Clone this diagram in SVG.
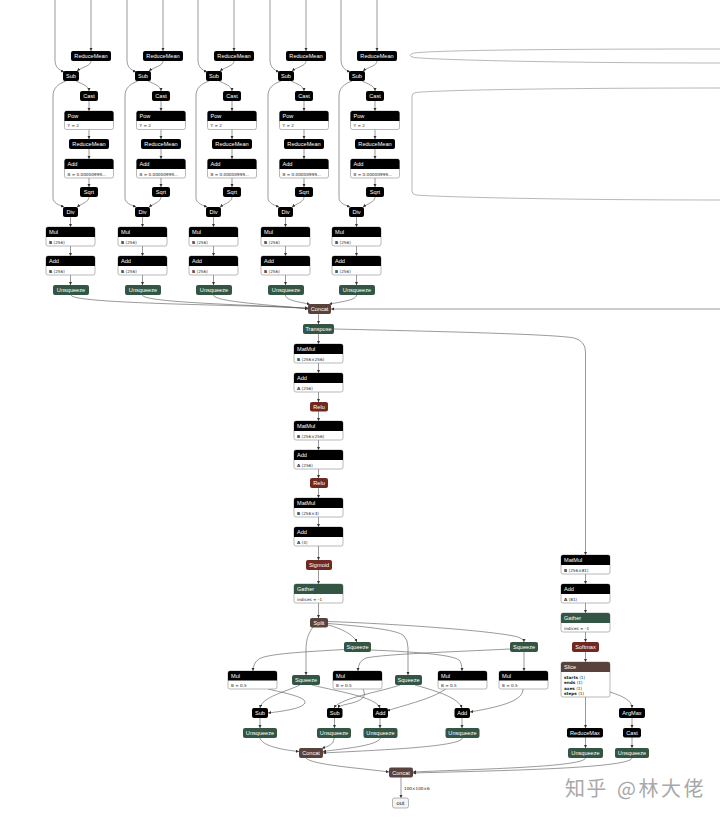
<svg xmlns="http://www.w3.org/2000/svg" width="720" height="819" viewBox="0 0 720 819">
<defs>
<marker id="ar" viewBox="0 0 6 6" refX="6" refY="3" markerWidth="3.2" markerHeight="3.2" markerUnits="userSpaceOnUse" orient="auto"><path d="M0,0L6,3L0,6Z" fill="#333"/></marker>
<style>
.k{fill:#000}
.act{fill:#702921}
.tns{fill:#59423b}
.trf{fill:#335544}
.b{fill:#fff;stroke:#8a8a8a;stroke-width:0.6}
.h{fill:#fff;font-family:"Liberation Sans","DejaVu Sans",sans-serif;font-size:5.6px;text-anchor:middle}
.hl{fill:#fff;font-family:"Liberation Sans","DejaVu Sans",sans-serif;font-size:5.6px}
.a{fill:#222;font-family:"DejaVu Sans","Liberation Sans",sans-serif;font-size:4.2px}
.e path{fill:none;stroke:#555;stroke-width:0.6;marker-end:url(#ar)}
.e path.n{marker-end:none;stroke:#888}
.out{fill:#f4f4f4;stroke:#888;stroke-width:0.6}
.ot{fill:#222;font-family:"Liberation Sans","DejaVu Sans",sans-serif;font-size:5.6px;text-anchor:middle}
.lb{fill:#222;font-family:"DejaVu Sans","Liberation Sans",sans-serif;font-size:4.2px}
.wm{fill:#a8a8a8;font-family:"Noto Sans CJK SC","Noto Sans",sans-serif;font-size:20px}
</style>
</defs>
<rect width="720" height="819" fill="#fff"/>

<!-- connectors -->
<g id="connectors" class="e">
  <g id="col-edges-1">
    <path d="M55,0V60C55,67 59,70 64,72"/><path d="M91,0V51"/><path d="M91,61C91,66 82,67 77,71"/><path d="M76,81C82,84 89,86 89,91"/><path d="M66,81C58,84 53,88 53,96V198C53,203 59,205 64,207"/><path d="M89,101V111"/><path d="M89,129.5V139"/><path d="M89,149V159"/><path d="M89,178V187"/><path d="M89,197C89,202 81,204 77,207"/><path d="M70.5,217V227"/><path d="M70.5,246V256"/><path d="M70.5,275V285"/>
  </g>
  <g id="col-edges-2" transform="translate(72,0)">
    <path d="M55,0V60C55,67 59,70 64,72"/><path d="M91,0V51"/><path d="M91,61C91,66 82,67 77,71"/><path d="M76,81C82,84 89,86 89,91"/><path d="M66,81C58,84 53,88 53,96V198C53,203 59,205 64,207"/><path d="M89,101V111"/><path d="M89,129.5V139"/><path d="M89,149V159"/><path d="M89,178V187"/><path d="M89,197C89,202 81,204 77,207"/><path d="M70.5,217V227"/><path d="M70.5,246V256"/><path d="M70.5,275V285"/>
  </g>
  <g id="col-edges-3" transform="translate(143,0)">
    <path d="M55,0V60C55,67 59,70 64,72"/><path d="M91,0V51"/><path d="M91,61C91,66 82,67 77,71"/><path d="M76,81C82,84 89,86 89,91"/><path d="M66,81C58,84 53,88 53,96V198C53,203 59,205 64,207"/><path d="M89,101V111"/><path d="M89,129.5V139"/><path d="M89,149V159"/><path d="M89,178V187"/><path d="M89,197C89,202 81,204 77,207"/><path d="M70.5,217V227"/><path d="M70.5,246V256"/><path d="M70.5,275V285"/>
  </g>
  <g id="col-edges-4" transform="translate(215,0)">
    <path d="M55,0V60C55,67 59,70 64,72"/><path d="M91,0V51"/><path d="M91,61C91,66 82,67 77,71"/><path d="M76,81C82,84 89,86 89,91"/><path d="M66,81C58,84 53,88 53,96V198C53,203 59,205 64,207"/><path d="M89,101V111"/><path d="M89,129.5V139"/><path d="M89,149V159"/><path d="M89,178V187"/><path d="M89,197C89,202 81,204 77,207"/><path d="M70.5,217V227"/><path d="M70.5,246V256"/><path d="M70.5,275V285"/>
  </g>
  <g id="col-edges-5" transform="translate(286,0)">
    <path d="M55,0V60C55,67 59,70 64,72"/><path d="M91,0V51"/><path d="M91,61C91,66 82,67 77,71"/><path d="M76,81C82,84 89,86 89,91"/><path d="M66,81C58,84 53,88 53,96V198C53,203 59,205 64,207"/><path d="M89,101V111"/><path d="M89,129.5V139"/><path d="M89,149V159"/><path d="M89,178V187"/><path d="M89,197C89,202 81,204 77,207"/><path d="M70.5,217V227"/><path d="M70.5,246V256"/><path d="M70.5,275V285"/>
  </g>
  <!-- off-screen loops on the right -->
  <path class="n" d="M720,49C560,49 440,50 414,53Q406,55.5 414,57.5C440,60 560,63 720,63"/>
  <path class="n" d="M720,88C560,88 440,90 416,92.5Q412,93 412,96V191Q412,194.5 416,195C440,197 560,200 720,200"/>
  <!-- unsqueeze to concat -->
  <path d="M71,295C71,304 250,305 308,308"/>
  <path d="M142.5,295C142.5,303 262,305 308,308.5"/>
  <path d="M213.5,295C213.5,302 275,305 308,309"/>
  <path d="M285.5,295C285.5,301 302,302 310,304.5"/>
  <path d="M356.5,295C356.5,301 336,302 329,304.5"/>
  <path d="M720,309H331"/>
  <!-- main column -->
  <path d="M318.5,314V324"/>
  <path d="M318.5,334V344"/>
  <path d="M318.5,363V373"/>
  <path d="M318.5,392V402"/>
  <path d="M318.5,411V421"/>
  <path d="M318.5,440V450"/>
  <path d="M318.5,469V478"/>
  <path d="M318.5,488V498"/>
  <path d="M318.5,517V527"/>
  <path d="M318.5,546V560"/>
  <path d="M318.5,570V584"/>
  <path d="M318.5,603V618"/>
  <!-- transpose to right branch -->
  <path d="M334,329C420,331 555,334 574,338Q585.5,341 585.5,352V555"/>
  <path d="M585.5,574V584"/>
  <path d="M585.5,603V613"/>
  <path d="M585.5,632V642"/>
  <path d="M585.5,652V662"/>
  <path d="M585.5,697V728"/>
  <path d="M610,692C622,696 632,700 632,708"/>
  <path d="M632,718V728"/>
  <path d="M585.5,737V748"/>
  <path d="M632,737V748"/>
  <path d="M585.5,758C584,767 480,769 413,772"/>
  <path d="M632,758C630,769 480,771 413,773"/>
  <!-- split outputs -->
  <path d="M313,627C308,634 306,640 306,650V675"/>
  <path d="M328,625C340,628 353,634 357,642"/>
  <path d="M328,623.5C370,627 398,630 404,636Q408,640 408,648V675"/>
  <path d="M328,621.5C400,624 495,631 518,637Q524,639 524,642"/>
  <!-- squeeze to mul -->
  <path d="M344,649.5C300,652 267,654 259,659Q253,663 253,671"/>
  <path d="M371,650C420,652 452,655 459,660Q462,663 462,671"/>
  <path d="M510,649C450,652 385,654 366,658Q358,661 358,671"/>
  <path d="M524,652V671"/>
  <!-- to sub/add -->
  <path d="M268,689C285,693 305,697 305,702C305,708 285,711 268,713"/>
  <path d="M300,685C285,692 262,697 260,708"/>
  <path d="M312,685C340,692 376,697 380,708"/>
  <path d="M363,689C367,697 362,700 352,703C343,705 339,706 338,708"/>
  <path d="M400,685C380,692 340,698 334,708"/>
  <path d="M446,689C430,700 400,706 387,711"/>
  <path d="M415,685C440,692 458,698 462,708"/>
  <path d="M523,689C523,700 505,706 470,712"/>
  <path d="M260,718V728"/>
  <path d="M334.5,718V728"/>
  <path d="M380,718V728"/>
  <path d="M462,718V728"/>
  <!-- to concat -->
  <path d="M260,738C262,746 283,750 299,751.5"/>
  <path d="M334,738C334,745 328,746 322,748.5"/>
  <path d="M380.5,738C378,746 340,749 323,751.5"/>
  <path d="M462.5,738C460,747 380,750 323,753"/>
  <path d="M306,758C312,765 360,768 389,772"/>
  <path d="M401,777V798"/>
</g>

<!-- top columns nodes -->
<g id="column-1">
  <g id="c1-reducemean-1"><rect class="k" x="71" y="51" width="40" height="10" rx="2"/><text class="h" x="91" y="58">ReduceMean</text></g>
  <g id="c1-sub"><rect class="k" x="63" y="71" width="16" height="10" rx="2"/><text class="h" x="71" y="78">Sub</text></g>
  <g id="c1-cast"><rect class="k" x="80" y="91" width="18" height="10" rx="2"/><text class="h" x="89" y="98">Cast</text></g>
  <g id="c1-pow"><rect class="b" x="64.5" y="111" width="49" height="18.5" rx="2"/><path class="k" d="M64.5,121V113a2,2 0 0 1 2,-2H111.5a2,2 0 0 1 2,2V121Z"/><text class="hl" x="67.5" y="118">Pow</text><text class="a" x="67.5" y="127">Y = 2</text></g>
  <g id="c1-reducemean-2"><rect class="k" x="69" y="139" width="40" height="10" rx="2"/><text class="h" x="89" y="146">ReduceMean</text></g>
  <g id="c1-add-1"><rect class="b" x="64.5" y="159" width="49" height="19" rx="2"/><path class="k" d="M64.5,169V161a2,2 0 0 1 2,-2H111.5a2,2 0 0 1 2,2V169Z"/><text class="hl" x="67.5" y="166">Add</text><text class="a" x="67.5" y="175.5">B = 0.00000999…</text></g>
  <g id="c1-sqrt"><rect class="k" x="80" y="187" width="18" height="10" rx="2"/><text class="h" x="89" y="194">Sqrt</text></g>
  <g id="c1-div"><rect class="k" x="63" y="207" width="15" height="10" rx="2"/><text class="h" x="70.5" y="214">Div</text></g>
  <g id="c1-mul"><rect class="b" x="46" y="227" width="49" height="19" rx="2"/><path class="k" d="M46,237V229a2,2 0 0 1 2,-2H93a2,2 0 0 1 2,2V237Z"/><text class="hl" x="49" y="234">Mul</text><text class="a" x="49" y="243.5"><tspan font-weight="bold">B</tspan> ⟨256⟩</text></g>
  <g id="c1-add-2"><rect class="b" x="46" y="256" width="49" height="19" rx="2"/><path class="k" d="M46,266V258a2,2 0 0 1 2,-2H93a2,2 0 0 1 2,2V266Z"/><text class="hl" x="49" y="263">Add</text><text class="a" x="49" y="272.5"><tspan font-weight="bold">B</tspan> ⟨256⟩</text></g>
  <g id="c1-unsqueeze"><rect class="trf" x="53" y="285" width="36" height="10" rx="2"/><text class="h" x="71" y="292">Unsqueeze</text></g>
</g>
<g id="column-2" transform="translate(72,0)">
  <g id="c2-reducemean-1"><rect class="k" x="71" y="51" width="40" height="10" rx="2"/><text class="h" x="91" y="58">ReduceMean</text></g>
  <g id="c2-sub"><rect class="k" x="63" y="71" width="16" height="10" rx="2"/><text class="h" x="71" y="78">Sub</text></g>
  <g id="c2-cast"><rect class="k" x="80" y="91" width="18" height="10" rx="2"/><text class="h" x="89" y="98">Cast</text></g>
  <g id="c2-pow"><rect class="b" x="64.5" y="111" width="49" height="18.5" rx="2"/><path class="k" d="M64.5,121V113a2,2 0 0 1 2,-2H111.5a2,2 0 0 1 2,2V121Z"/><text class="hl" x="67.5" y="118">Pow</text><text class="a" x="67.5" y="127">Y = 2</text></g>
  <g id="c2-reducemean-2"><rect class="k" x="69" y="139" width="40" height="10" rx="2"/><text class="h" x="89" y="146">ReduceMean</text></g>
  <g id="c2-add-1"><rect class="b" x="64.5" y="159" width="49" height="19" rx="2"/><path class="k" d="M64.5,169V161a2,2 0 0 1 2,-2H111.5a2,2 0 0 1 2,2V169Z"/><text class="hl" x="67.5" y="166">Add</text><text class="a" x="67.5" y="175.5">B = 0.00000999…</text></g>
  <g id="c2-sqrt"><rect class="k" x="80" y="187" width="18" height="10" rx="2"/><text class="h" x="89" y="194">Sqrt</text></g>
  <g id="c2-div"><rect class="k" x="63" y="207" width="15" height="10" rx="2"/><text class="h" x="70.5" y="214">Div</text></g>
  <g id="c2-mul"><rect class="b" x="46" y="227" width="49" height="19" rx="2"/><path class="k" d="M46,237V229a2,2 0 0 1 2,-2H93a2,2 0 0 1 2,2V237Z"/><text class="hl" x="49" y="234">Mul</text><text class="a" x="49" y="243.5"><tspan font-weight="bold">B</tspan> ⟨256⟩</text></g>
  <g id="c2-add-2"><rect class="b" x="46" y="256" width="49" height="19" rx="2"/><path class="k" d="M46,266V258a2,2 0 0 1 2,-2H93a2,2 0 0 1 2,2V266Z"/><text class="hl" x="49" y="263">Add</text><text class="a" x="49" y="272.5"><tspan font-weight="bold">B</tspan> ⟨256⟩</text></g>
  <g id="c2-unsqueeze"><rect class="trf" x="53" y="285" width="36" height="10" rx="2"/><text class="h" x="71" y="292">Unsqueeze</text></g>
</g>
<g id="column-3" transform="translate(143,0)">
  <g id="c3-reducemean-1"><rect class="k" x="71" y="51" width="40" height="10" rx="2"/><text class="h" x="91" y="58">ReduceMean</text></g>
  <g id="c3-sub"><rect class="k" x="63" y="71" width="16" height="10" rx="2"/><text class="h" x="71" y="78">Sub</text></g>
  <g id="c3-cast"><rect class="k" x="80" y="91" width="18" height="10" rx="2"/><text class="h" x="89" y="98">Cast</text></g>
  <g id="c3-pow"><rect class="b" x="64.5" y="111" width="49" height="18.5" rx="2"/><path class="k" d="M64.5,121V113a2,2 0 0 1 2,-2H111.5a2,2 0 0 1 2,2V121Z"/><text class="hl" x="67.5" y="118">Pow</text><text class="a" x="67.5" y="127">Y = 2</text></g>
  <g id="c3-reducemean-2"><rect class="k" x="69" y="139" width="40" height="10" rx="2"/><text class="h" x="89" y="146">ReduceMean</text></g>
  <g id="c3-add-1"><rect class="b" x="64.5" y="159" width="49" height="19" rx="2"/><path class="k" d="M64.5,169V161a2,2 0 0 1 2,-2H111.5a2,2 0 0 1 2,2V169Z"/><text class="hl" x="67.5" y="166">Add</text><text class="a" x="67.5" y="175.5">B = 0.00000999…</text></g>
  <g id="c3-sqrt"><rect class="k" x="80" y="187" width="18" height="10" rx="2"/><text class="h" x="89" y="194">Sqrt</text></g>
  <g id="c3-div"><rect class="k" x="63" y="207" width="15" height="10" rx="2"/><text class="h" x="70.5" y="214">Div</text></g>
  <g id="c3-mul"><rect class="b" x="46" y="227" width="49" height="19" rx="2"/><path class="k" d="M46,237V229a2,2 0 0 1 2,-2H93a2,2 0 0 1 2,2V237Z"/><text class="hl" x="49" y="234">Mul</text><text class="a" x="49" y="243.5"><tspan font-weight="bold">B</tspan> ⟨256⟩</text></g>
  <g id="c3-add-2"><rect class="b" x="46" y="256" width="49" height="19" rx="2"/><path class="k" d="M46,266V258a2,2 0 0 1 2,-2H93a2,2 0 0 1 2,2V266Z"/><text class="hl" x="49" y="263">Add</text><text class="a" x="49" y="272.5"><tspan font-weight="bold">B</tspan> ⟨256⟩</text></g>
  <g id="c3-unsqueeze"><rect class="trf" x="53" y="285" width="36" height="10" rx="2"/><text class="h" x="71" y="292">Unsqueeze</text></g>
</g>
<g id="column-4" transform="translate(215,0)">
  <g id="c4-reducemean-1"><rect class="k" x="71" y="51" width="40" height="10" rx="2"/><text class="h" x="91" y="58">ReduceMean</text></g>
  <g id="c4-sub"><rect class="k" x="63" y="71" width="16" height="10" rx="2"/><text class="h" x="71" y="78">Sub</text></g>
  <g id="c4-cast"><rect class="k" x="80" y="91" width="18" height="10" rx="2"/><text class="h" x="89" y="98">Cast</text></g>
  <g id="c4-pow"><rect class="b" x="64.5" y="111" width="49" height="18.5" rx="2"/><path class="k" d="M64.5,121V113a2,2 0 0 1 2,-2H111.5a2,2 0 0 1 2,2V121Z"/><text class="hl" x="67.5" y="118">Pow</text><text class="a" x="67.5" y="127">Y = 2</text></g>
  <g id="c4-reducemean-2"><rect class="k" x="69" y="139" width="40" height="10" rx="2"/><text class="h" x="89" y="146">ReduceMean</text></g>
  <g id="c4-add-1"><rect class="b" x="64.5" y="159" width="49" height="19" rx="2"/><path class="k" d="M64.5,169V161a2,2 0 0 1 2,-2H111.5a2,2 0 0 1 2,2V169Z"/><text class="hl" x="67.5" y="166">Add</text><text class="a" x="67.5" y="175.5">B = 0.00000999…</text></g>
  <g id="c4-sqrt"><rect class="k" x="80" y="187" width="18" height="10" rx="2"/><text class="h" x="89" y="194">Sqrt</text></g>
  <g id="c4-div"><rect class="k" x="63" y="207" width="15" height="10" rx="2"/><text class="h" x="70.5" y="214">Div</text></g>
  <g id="c4-mul"><rect class="b" x="46" y="227" width="49" height="19" rx="2"/><path class="k" d="M46,237V229a2,2 0 0 1 2,-2H93a2,2 0 0 1 2,2V237Z"/><text class="hl" x="49" y="234">Mul</text><text class="a" x="49" y="243.5"><tspan font-weight="bold">B</tspan> ⟨256⟩</text></g>
  <g id="c4-add-2"><rect class="b" x="46" y="256" width="49" height="19" rx="2"/><path class="k" d="M46,266V258a2,2 0 0 1 2,-2H93a2,2 0 0 1 2,2V266Z"/><text class="hl" x="49" y="263">Add</text><text class="a" x="49" y="272.5"><tspan font-weight="bold">B</tspan> ⟨256⟩</text></g>
  <g id="c4-unsqueeze"><rect class="trf" x="53" y="285" width="36" height="10" rx="2"/><text class="h" x="71" y="292">Unsqueeze</text></g>
</g>
<g id="column-5" transform="translate(286,0)">
  <g id="c5-reducemean-1"><rect class="k" x="71" y="51" width="40" height="10" rx="2"/><text class="h" x="91" y="58">ReduceMean</text></g>
  <g id="c5-sub"><rect class="k" x="63" y="71" width="16" height="10" rx="2"/><text class="h" x="71" y="78">Sub</text></g>
  <g id="c5-cast"><rect class="k" x="80" y="91" width="18" height="10" rx="2"/><text class="h" x="89" y="98">Cast</text></g>
  <g id="c5-pow"><rect class="b" x="64.5" y="111" width="49" height="18.5" rx="2"/><path class="k" d="M64.5,121V113a2,2 0 0 1 2,-2H111.5a2,2 0 0 1 2,2V121Z"/><text class="hl" x="67.5" y="118">Pow</text><text class="a" x="67.5" y="127">Y = 2</text></g>
  <g id="c5-reducemean-2"><rect class="k" x="69" y="139" width="40" height="10" rx="2"/><text class="h" x="89" y="146">ReduceMean</text></g>
  <g id="c5-add-1"><rect class="b" x="64.5" y="159" width="49" height="19" rx="2"/><path class="k" d="M64.5,169V161a2,2 0 0 1 2,-2H111.5a2,2 0 0 1 2,2V169Z"/><text class="hl" x="67.5" y="166">Add</text><text class="a" x="67.5" y="175.5">B = 0.00000999…</text></g>
  <g id="c5-sqrt"><rect class="k" x="80" y="187" width="18" height="10" rx="2"/><text class="h" x="89" y="194">Sqrt</text></g>
  <g id="c5-div"><rect class="k" x="63" y="207" width="15" height="10" rx="2"/><text class="h" x="70.5" y="214">Div</text></g>
  <g id="c5-mul"><rect class="b" x="46" y="227" width="49" height="19" rx="2"/><path class="k" d="M46,237V229a2,2 0 0 1 2,-2H93a2,2 0 0 1 2,2V237Z"/><text class="hl" x="49" y="234">Mul</text><text class="a" x="49" y="243.5"><tspan font-weight="bold">B</tspan> ⟨256⟩</text></g>
  <g id="c5-add-2"><rect class="b" x="46" y="256" width="49" height="19" rx="2"/><path class="k" d="M46,266V258a2,2 0 0 1 2,-2H93a2,2 0 0 1 2,2V266Z"/><text class="hl" x="49" y="263">Add</text><text class="a" x="49" y="272.5"><tspan font-weight="bold">B</tspan> ⟨256⟩</text></g>
  <g id="c5-unsqueeze"><rect class="trf" x="53" y="285" width="36" height="10" rx="2"/><text class="h" x="71" y="292">Unsqueeze</text></g>
</g>

<!-- main column -->
<g id="concat-1"><rect class="tns" x="308" y="304" width="23" height="10" rx="2"/><text class="h" x="319.5" y="311">Concat</text></g>
<g id="transpose"><rect class="trf" x="303" y="324" width="31" height="10" rx="2"/><text class="h" x="318.5" y="331">Transpose</text></g>
<g id="matmul-1"><rect class="b" x="294" y="344" width="49" height="19" rx="2"/><path class="k" d="M294,354V346a2,2 0 0 1 2,-2H341a2,2 0 0 1 2,2V354Z"/><text class="hl" x="297" y="351">MatMul</text><text class="a" x="297" y="360.5"><tspan font-weight="bold">B</tspan> ⟨256×256⟩</text></g>
<g id="add-m1"><rect class="b" x="294" y="373" width="49" height="19" rx="2"/><path class="k" d="M294,383V375a2,2 0 0 1 2,-2H341a2,2 0 0 1 2,2V383Z"/><text class="hl" x="297" y="380">Add</text><text class="a" x="297" y="389.5"><tspan font-weight="bold">A</tspan> ⟨256⟩</text></g>
<g id="relu-1"><rect class="act" x="310" y="402" width="18" height="9.5" rx="2"/><text class="h" x="319" y="409">Relu</text></g>
<g id="matmul-2"><rect class="b" x="294" y="421" width="49" height="19" rx="2"/><path class="k" d="M294,431V423a2,2 0 0 1 2,-2H341a2,2 0 0 1 2,2V431Z"/><text class="hl" x="297" y="428">MatMul</text><text class="a" x="297" y="437.5"><tspan font-weight="bold">B</tspan> ⟨256×256⟩</text></g>
<g id="add-m2"><rect class="b" x="294" y="450" width="49" height="19" rx="2"/><path class="k" d="M294,460V452a2,2 0 0 1 2,-2H341a2,2 0 0 1 2,2V460Z"/><text class="hl" x="297" y="457">Add</text><text class="a" x="297" y="466.5"><tspan font-weight="bold">A</tspan> ⟨256⟩</text></g>
<g id="relu-2"><rect class="act" x="310" y="478" width="18" height="10" rx="2"/><text class="h" x="319" y="485">Relu</text></g>
<g id="matmul-3"><rect class="b" x="294" y="498" width="49" height="19" rx="2"/><path class="k" d="M294,508V500a2,2 0 0 1 2,-2H341a2,2 0 0 1 2,2V508Z"/><text class="hl" x="297" y="505">MatMul</text><text class="a" x="297" y="514.5"><tspan font-weight="bold">B</tspan> ⟨256×4⟩</text></g>
<g id="add-m3"><rect class="b" x="294" y="527" width="49" height="19" rx="2"/><path class="k" d="M294,537V529a2,2 0 0 1 2,-2H341a2,2 0 0 1 2,2V537Z"/><text class="hl" x="297" y="534">Add</text><text class="a" x="297" y="543.5"><tspan font-weight="bold">A</tspan> ⟨4⟩</text></g>
<g id="sigmoid"><rect class="act" x="306" y="560" width="26" height="10" rx="2"/><text class="h" x="319" y="567">Sigmoid</text></g>
<g id="gather-1"><rect class="b" x="294" y="584" width="49" height="19" rx="2"/><path class="trf" d="M294,594V586a2,2 0 0 1 2,-2H341a2,2 0 0 1 2,2V594Z"/><text class="hl" x="297" y="591">Gather</text><text class="a" x="297" y="600.5">indices = -1</text></g>
<g id="split"><rect class="tns" x="310" y="618" width="18" height="9.5" rx="2"/><text class="h" x="319" y="625">Split</text></g>

<!-- box decode -->
<g id="squeeze-w"><rect class="trf" x="344" y="642" width="27" height="10" rx="2"/><text class="h" x="357.5" y="649">Squeeze</text></g>
<g id="squeeze-h"><rect class="trf" x="510" y="642" width="28" height="10" rx="2"/><text class="h" x="524" y="649">Squeeze</text></g>
<g id="squeeze-x"><rect class="trf" x="292" y="675" width="28" height="10" rx="2"/><text class="h" x="306" y="682">Squeeze</text></g>
<g id="squeeze-y"><rect class="trf" x="395" y="675" width="27" height="10" rx="2"/><text class="h" x="408.5" y="682">Squeeze</text></g>
<g id="mul-a"><rect class="b" x="228" y="671" width="49" height="18" rx="2"/><path class="k" d="M228,680.5V673a2,2 0 0 1 2,-2H275a2,2 0 0 1 2,2V680.5Z"/><text class="hl" x="231" y="677.8">Mul</text><text class="a" x="231" y="686.8">B = 0.5</text></g>
<g id="mul-b"><rect class="b" x="333" y="671" width="49" height="18" rx="2"/><path class="k" d="M333,680.5V673a2,2 0 0 1 2,-2H380a2,2 0 0 1 2,2V680.5Z"/><text class="hl" x="336" y="677.8">Mul</text><text class="a" x="336" y="686.8">B = 0.5</text></g>
<g id="mul-c"><rect class="b" x="438" y="671" width="49" height="18" rx="2"/><path class="k" d="M438,680.5V673a2,2 0 0 1 2,-2H485a2,2 0 0 1 2,2V680.5Z"/><text class="hl" x="441" y="677.8">Mul</text><text class="a" x="441" y="686.8">B = 0.5</text></g>
<g id="mul-d"><rect class="b" x="499" y="671" width="49" height="18" rx="2"/><path class="k" d="M499,680.5V673a2,2 0 0 1 2,-2H546a2,2 0 0 1 2,2V680.5Z"/><text class="hl" x="502" y="677.8">Mul</text><text class="a" x="502" y="686.8">B = 0.5</text></g>
<g id="sub-1"><rect class="k" x="252" y="708" width="16" height="10" rx="2"/><text class="h" x="260" y="715">Sub</text></g>
<g id="sub-2"><rect class="k" x="327" y="708" width="15.5" height="10" rx="2"/><text class="h" x="334.75" y="715">Sub</text></g>
<g id="add-1"><rect class="k" x="373" y="708" width="15" height="10" rx="2"/><text class="h" x="380.5" y="715">Add</text></g>
<g id="add-2"><rect class="k" x="454.5" y="708" width="15.5" height="10" rx="2"/><text class="h" x="462.25" y="715">Add</text></g>
<g id="unsq-1"><rect class="trf" x="243" y="728" width="34" height="10" rx="2"/><text class="h" x="260" y="735">Unsqueeze</text></g>
<g id="unsq-2"><rect class="trf" x="317" y="728" width="34" height="10" rx="2"/><text class="h" x="334" y="735">Unsqueeze</text></g>
<g id="unsq-3"><rect class="trf" x="363.5" y="728" width="34" height="10" rx="2"/><text class="h" x="380.5" y="735">Unsqueeze</text></g>
<g id="unsq-4"><rect class="trf" x="445.5" y="728" width="34" height="10" rx="2"/><text class="h" x="462.5" y="735">Unsqueeze</text></g>
<g id="concat-2"><rect class="tns" x="299" y="748" width="24" height="10" rx="2"/><text class="h" x="311" y="755">Concat</text></g>
<g id="concat-3"><rect class="tns" x="389" y="767.5" width="24" height="10" rx="2"/><text class="h" x="401" y="774.5">Concat</text></g>
<g id="out"><rect class="out" x="392.5" y="798" width="16" height="10" rx="2"/><text class="ot" x="400.5" y="805">out</text></g>
<text class="lb" x="404" y="790">100×100×6</text>

<!-- right branch -->
<g id="matmul-r"><rect class="b" x="561" y="555" width="49" height="19" rx="2"/><path class="k" d="M561,565V557a2,2 0 0 1 2,-2H608a2,2 0 0 1 2,2V565Z"/><text class="hl" x="564" y="562">MatMul</text><text class="a" x="564" y="571.5"><tspan font-weight="bold">B</tspan> ⟨256×81⟩</text></g>
<g id="add-r"><rect class="b" x="561" y="584" width="49" height="19" rx="2"/><path class="k" d="M561,594V586a2,2 0 0 1 2,-2H608a2,2 0 0 1 2,2V594Z"/><text class="hl" x="564" y="591">Add</text><text class="a" x="564" y="600.5"><tspan font-weight="bold">A</tspan> ⟨81⟩</text></g>
<g id="gather-r"><rect class="b" x="561" y="613" width="49" height="19" rx="2"/><path class="trf" d="M561,623V615a2,2 0 0 1 2,-2H608a2,2 0 0 1 2,2V623Z"/><text class="hl" x="564" y="620">Gather</text><text class="a" x="564" y="629.5">indices = -1</text></g>
<g id="softmax"><rect class="act" x="572" y="642" width="27" height="10" rx="2"/><text class="h" x="585.5" y="649">Softmax</text></g>
<g id="slice"><rect class="b" x="561" y="662" width="49" height="35" rx="2"/><path class="tns" d="M561,672V664a2,2 0 0 1 2,-2H608a2,2 0 0 1 2,2V672Z"/><text class="hl" x="564" y="669">Slice</text><text class="a" x="564" y="678.5"><tspan font-weight="bold">starts</tspan> ⟨1⟩</text><text class="a" x="564" y="684"><tspan font-weight="bold">ends</tspan> ⟨1⟩</text><text class="a" x="564" y="689.5"><tspan font-weight="bold">axes</tspan> ⟨1⟩</text><text class="a" x="564" y="695"><tspan font-weight="bold">steps</tspan> ⟨1⟩</text></g>
<g id="argmax"><rect class="k" x="619" y="708" width="26" height="10" rx="2"/><text class="h" x="632" y="715">ArgMax</text></g>
<g id="reducemax"><rect class="k" x="567" y="728" width="36" height="9.5" rx="2"/><text class="h" x="585" y="735">ReduceMax</text></g>
<g id="cast-r"><rect class="k" x="623" y="728" width="18" height="9.5" rx="2"/><text class="h" x="632" y="735">Cast</text></g>
<g id="unsq-r1"><rect class="trf" x="568" y="748" width="35" height="10" rx="2"/><text class="h" x="585.5" y="755">Unsqueeze</text></g>
<g id="unsq-r2"><rect class="trf" x="615" y="748" width="34" height="10" rx="2"/><text class="h" x="632" y="755">Unsqueeze</text></g>

<text class="wm" x="565" y="796" letter-spacing="1.2">知乎</text>
<text class="wm" x="617" y="796" letter-spacing="2.5">@林大佬</text>
</svg>
